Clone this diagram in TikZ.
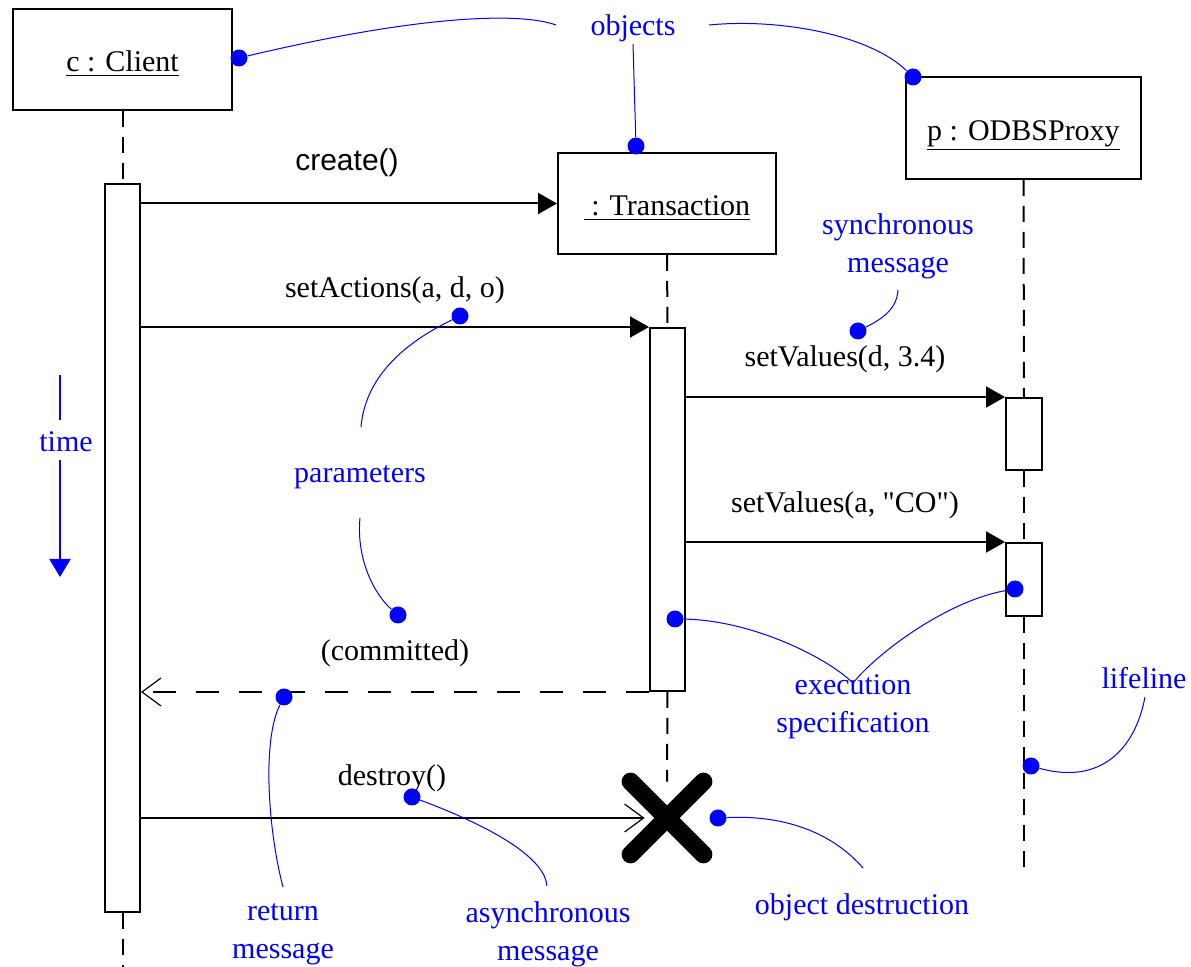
\documentclass[tikz,border=0pt]{standalone}
\usepackage{fontspec}
\setmainfont{Liberation Serif}
\setsansfont{Liberation Sans}
\usetikzlibrary{arrows.meta,calc}

\begin{document}
\begin{tikzpicture}[x=0.5pt, y=-0.5pt, font=\fontsize{15}{19}\selectfont,
    obj/.style={draw, line width=1pt, inner sep=0pt, text height=13.5pt, text depth=1pt},
    act/.style={draw, fill=white, line width=1pt, inner sep=0pt, minimum width=17.5pt},
    life/.style={line width=1pt, dash pattern=on 8pt off 5pt},
    msg/.style={line width=1pt, -{Triangle[length=9.5pt,width=10.5pt]}},
    amsg/.style={line width=1pt, -{Straight Barb[length=9.5pt,width=14pt,line width=0.6pt]}},
    rmsg/.style={amsg, dash pattern=on 11.5pt off 10pt},
    note/.style={text=blue, align=center, inner sep=1pt},
    pin/.style={circle, fill=blue, inner sep=0pt, minimum size=8.5pt},
    link/.style={blue, line width=0.5pt}]

    \useasboundingbox (0,0) rectangle (1191,967);

    \node[obj, minimum width=109.5pt, minimum height=50.5pt] (cl) at (122.5,59.5) {\underline{c : Client}};
    \node[obj, minimum width=109pt, minimum height=50.5pt] (tr) at (667,203.5) {\underline{\ : Transaction}};
    \node[obj, minimum width=117.5pt, minimum height=51pt] (pr) at (1023.5,128) {\underline{p : ODBSProxy}};

    \node[act, minimum height=364pt] (ca) at (122.5,548) {};
    \node[act, minimum height=181.5pt] (ta) at (667.5,509.5) {};
    \node[act, minimum width=18pt, minimum height=36pt] (pa1) at (1024,434) {};
    \node[act, minimum width=18pt, minimum height=36.5pt] (pa2) at (1024,579.5) {};
    \node[minimum size=36pt, inner sep=0pt] (xd) at (667,818) {};

    \draw[life] (cl.south) -- (ca.north);
    \draw[life] (ca.south) -- ++(0,55);
    \draw[life] (tr.south) -- (ta.north);
    \draw[life] (ta.south) -- (xd.north);
    \draw[life] (pr.south) -- (pa1.north);
    \draw[life] (pa1.south) -- (pa2.north);
    \draw[life] (pa2.south) -- ++(0,254);
    \draw[line width=9pt, line cap=round] (xd.north west) -- (xd.south east) (xd.north east) -- (xd.south west);

    \draw[msg] (ca.east |- tr.west) -- (tr.west);
    \draw[msg] (ca.east |- ta.north west) -- (ta.north west);
    \draw[msg] (ta.east |- pa1.north west) -- (pa1.north west);
    \draw[msg] (ta.east |- pa2.north west) -- (pa2.north west);
    \draw[rmsg] (ta.south west) -- (ca.east |- ta.south west);
    \draw[amsg] (ca.east |- xd.west) -- ([xshift=7pt]xd.west);

    \node at (347,163) (mcreate) {\sffamily create()};
    \node at (395,290) (mset) {setActions(a, d, o)};
    \node at (845,359) (mval1) {setValues(d, 3.4)};
    \node at (845,505) (mval2) {setValues(a, \textquotedbl CO\textquotedbl)};
    \node at (395,653) (mret) {(committed)};
    \node at (392,778) (mdel) {destroy()};

    \node[note] (nobj) at (633,28) {objects};
    \node[note] (nsync) at (898,246) {synchronous\\message};
    \node[note] (ntime) at (66,442) {time};
    \node[note] (npar) at (360,477) {parameters};
    \node[note] (nexec) at (853,707) {execution\\specification};
    \node[note] (nlife) at (1144,678) {lifeline};
    \node[note] (nret) at (283,934) {return\\message};
    \node[note] (nasync) at (548,934) {asynchronous\\message};
    \node[note] (ndes) at (862,907) {object destruction};

    \node[pin] (p1) at (239,58) {};
    \node[pin] (p2) at (636,146) {};
    \node[pin] (p3) at (913,77) {};
    \node[pin] (p4) at (858,331) {};
    \node[pin] (p5) at (460,316) {};
    \node[pin] (p6) at (398,615) {};
    \node[pin] (p7) at (675,619) {};
    \node[pin] (p8) at (1015,589) {};
    \node[pin] (p9) at (1031,766) {};
    \node[pin] (p10) at (284,697) {};
    \node[pin] (p11) at (412,797) {};
    \node[pin] (p12) at (718,818) {};

    \draw[link] ($(nobj)+(-77,-3)$) .. controls +(-36,-13) and +(181,-43) .. (p1);
    \draw[link] (nobj.south) -- (p2);
    \draw[link] ($(nobj)+(76,-3)$) .. controls +(71,-7) and +(-43,-42) .. (p3);
    \draw[link] ($(nsync)+(0,44)$) .. controls +(-1,20) and +(22,-11) .. (p4);
    \draw[blue, line width=1pt] ($(ntime)+(-6,-22)$) -- ++(0,-45);
    \draw[blue, line width=1pt, -{Triangle[length=9pt,width=10.5pt]}] ($(ntime)+(-6,18)$) -- ++(0,117);
    \draw[link] ($(npar)+(1,-50)$) .. controls +(4,-47) and +(-60,29) .. (p5);
    \draw[link] ($(npar)+(0,41)$) .. controls +(-4,42) and +(-23,-20) .. (p6);
    \draw[link] (p7) .. controls +(75,1) and +(-28,-27) .. ($(nexec)+(0,-24)$);
    \draw[link] ($(nexec)+(0,-24)$) .. controls +(27,-33) and +(-65,11) .. (p8);
    \draw[link] ($(nlife)+(1,19)$) .. controls +(-10,53) and +(69,19) .. (p9);
    \draw[link] ($(nret)+(0,-47)$) .. controls +(-15,-57) and +(-22,43) .. (p10);
    \draw[link] ($(nasync)+(-1,-48)$) .. controls +(-2,-26) and +(88,33) .. (p11);
    \draw[link] ($(ndes)+(1,-39)$) .. controls +(-33,-38) and +(62,-3) .. (p12);
\end{tikzpicture}
\end{document}
